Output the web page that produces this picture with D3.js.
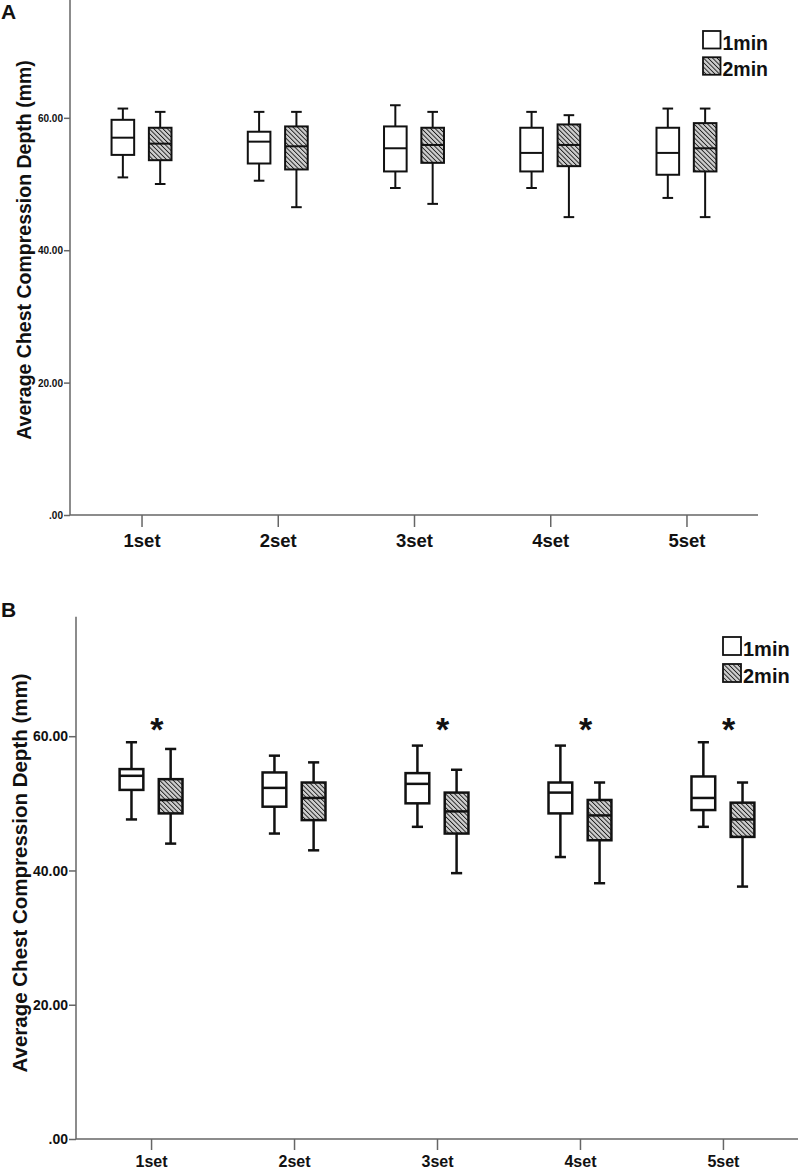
<!DOCTYPE html>
<html>
<head>
<meta charset="utf-8">
<script src="https://cdn.jsdelivr.net/npm/d3@7"></script>
<style>
  body { margin: 0; background: #fff; }
  svg { display: block; font-family: "Liberation Sans", Arial, sans-serif; font-weight: bold; }
</style>
</head>
<body>
<div id="container"></div>
<script>
// categories and tick labels
const sets = ["1set", "2set", "3set", "4set", "5set"];
const groups = ["1min", "2min"];
const yTicks = [0, 20, 40, 60];
const yTickLabels = [".00", "20.00", "40.00", "60.00"];
const yLabel = "Average Chest Compression Depth (mm)";

// box stats per set: [lower whisker, q1, median, q3, upper whisker]
const a1min = [
    [51.0, 54.4, 57.0, 59.7, 61.4],
    [50.5, 53.1, 56.4, 57.9, 60.9],
    [49.4, 51.9, 55.4, 58.7, 61.9],
    [49.4, 51.9, 54.7, 58.5, 60.9],
    [47.9, 51.4, 54.7, 58.5, 61.4]
];
const a2min = [
    [50.0, 53.6, 56.1, 58.5, 60.9],
    [46.5, 52.2, 55.7, 58.7, 60.9],
    [47.0, 53.2, 55.9, 58.5, 60.9],
    [45.0, 52.7, 55.9, 59.0, 60.4],
    [45.0, 51.9, 55.4, 59.2, 61.4]
];
const b1min = [
    [47.6, 52.0, 54.1, 55.1, 59.1],
    [45.5, 49.5, 52.3, 54.6, 57.1],
    [46.5, 50.0, 52.9, 54.5, 58.6],
    [42.0, 48.5, 51.6, 53.1, 58.6],
    [46.5, 49.0, 50.8, 54.0, 59.1]
];
const b2min = [
    [44.0, 48.5, 50.5, 53.6, 58.1],
    [43.0, 47.5, 50.8, 53.1, 56.1],
    [39.6, 45.5, 48.8, 51.6, 55.0],
    [38.1, 44.5, 48.2, 50.5, 53.1],
    [37.6, 45.0, 47.6, 50.1, 53.1]
];
const aSignif = [false, false, false, false, false];
const bSignif = [true, false, true, true, true];

const width = 800, height = 1170;
const yMax = 77.8;

const svg = d3.select("#container").append("svg")
    .attr("width", width).attr("height", height);

// hatch pattern for the 2min boxes (lines running top-left to bottom-right)
const defs = svg.append("defs");
const pat = defs.append("pattern")
    .attr("id", "hatch")
    .attr("patternUnits", "userSpaceOnUse")
    .attr("width", 3.2).attr("height", 3.2)
    .attr("patternTransform", "rotate(-45)");
pat.append("rect").attr("width", 3.2).attr("height", 3.2).attr("fill", "#cfcfcf");
pat.append("line")
    .attr("x1", 0).attr("y1", 0).attr("x2", 0).attr("y2", 3.2)
    .attr("stroke", "#1a1a1a").attr("stroke-width", 1.8);

function drawPanel(p) {
    const g = svg.append("g");

    const x = d3.scalePoint().domain(sets).range([p.left, p.right]).padding(0.525);
    const y = d3.scaleLinear().domain([0, yMax]).range([p.bottom, p.top]);
    const step = x.step();
    const off = step * 0.137;
    const bw = step * 0.166;
    const cap = bw * 0.47;

    // y axis
    const yAxis = d3.axisLeft(y)
        .tickValues(yTicks)
        .tickFormat((d, i) => yTickLabels[i])
        .tickSize(p.yTick).tickPadding(1);
    const ya = g.append("g")
        .attr("transform", `translate(${p.left},0)`)
        .call(yAxis);
    ya.selectAll("text").style("font-size", p.yFont + "px").attr("fill", "#111").attr("dy", "0.34em");

    // x axis
    const xAxis = d3.axisBottom(x).tickSize(p.xTick).tickPadding(p.xPad).tickSizeOuter(0);
    const xa = g.append("g")
        .attr("transform", `translate(0,${p.bottom})`)
        .call(xAxis);
    xa.selectAll("text").style("font-size", p.xFont + "px").attr("fill", "#111");

    g.selectAll(".domain, .tick line").attr("stroke", "#666").attr("stroke-width", 1.5);
    xa.select(".domain").attr("d", `M${p.left},0H${p.right}`);
    ya.select(".domain").attr("d", `M0,${p.bottom}V${p.top}`);

    // boxes
    const series = [
        { key: "1min", vals: p.s1, dx: -off, fill: "#fff" },
        { key: "2min", vals: p.s2, dx: off, fill: "url(#hatch)" }
    ];
    series.forEach(s => {
        const bg = g.append("g").selectAll("g")
            .data(s.vals.map((v, i) => ({ set: sets[i], v: v })))
            .enter().append("g")
            .attr("transform", d => `translate(${x(d.set) + s.dx},0)`);
        bg.append("line")
            .attr("y1", d => y(d.v[0])).attr("y2", d => y(d.v[1]))
            .attr("stroke", "#111").attr("stroke-width", p.sw);
        bg.append("line")
            .attr("y1", d => y(d.v[3])).attr("y2", d => y(d.v[4]))
            .attr("stroke", "#111").attr("stroke-width", p.sw);
        bg.append("line")
            .attr("x1", -cap / 2).attr("x2", cap / 2)
            .attr("y1", d => y(d.v[0])).attr("y2", d => y(d.v[0]))
            .attr("stroke", "#111").attr("stroke-width", p.sw);
        bg.append("line")
            .attr("x1", -cap / 2).attr("x2", cap / 2)
            .attr("y1", d => y(d.v[4])).attr("y2", d => y(d.v[4]))
            .attr("stroke", "#111").attr("stroke-width", p.sw);
        bg.append("rect")
            .attr("x", -bw / 2).attr("width", bw)
            .attr("y", d => y(d.v[3]))
            .attr("height", d => y(d.v[1]) - y(d.v[3]))
            .attr("fill", s.fill)
            .attr("stroke", "#111").attr("stroke-width", p.sw);
        bg.append("line")
            .attr("x1", -bw / 2).attr("x2", bw / 2)
            .attr("y1", d => y(d.v[2])).attr("y2", d => y(d.v[2]))
            .attr("stroke", "#111").attr("stroke-width", p.sw);
    });

    // significance stars
    g.append("g").selectAll("text")
        .data(sets.filter((s, i) => p.signif[i]))
        .enter().append("text")
        .attr("x", d => x(d) + step * 0.04)
        .attr("y", y(p.starAt))
        .attr("text-anchor", "middle")
        .style("font-size", "34px")
        .attr("fill", "#111")
        .text("*");

    // y label
    g.append("text")
        .attr("transform", `translate(${p.labelX},${p.labelY})rotate(-90)`)
        .attr("text-anchor", "middle")
        .style("font-size", p.labelFont + "px")
        .attr("fill", "#111")
        .text(yLabel);

    // panel letter
    g.append("text")
        .attr("x", 1).attr("y", p.letterY)
        .style("font-size", "21px")
        .attr("fill", "#111")
        .text(p.letter);

    // legend
    const lg = g.append("g").attr("transform", `translate(${p.legX},${p.legY})`);
    const ls = p.legSize;
    groups.forEach((k, i) => {
        lg.append("rect")
            .attr("x", 0).attr("y", i * ls * 1.5)
            .attr("width", ls).attr("height", ls)
            .attr("fill", i === 0 ? "#fff" : "url(#hatch)")
            .attr("stroke", "#111").attr("stroke-width", 1.8);
        lg.append("text")
            .attr("x", ls + 2).attr("y", i * ls * 1.5 + ls + 1)
            .style("font-size", p.legFont + "px")
            .attr("fill", "#111")
            .text(k);
    });
}

drawPanel({
    letter: "A", letterY: 19,
    left: 70, right: 758, top: 0, bottom: 515,
    s1: a1min, s2: a2min, signif: aSignif, starAt: 62,
    yTick: 6, yFont: 10, xTick: 12, xPad: 7, xFont: 18.5,
    labelX: 31, labelY: 250, labelFont: 19.5,
    legX: 703, legY: 31, legSize: 17.5, legFont: 19.5,
    sw: 2
});

drawPanel({
    letter: "B", letterY: 617,
    left: 76, right: 798, top: 616.7, bottom: 1139,
    s1: b1min, s2: b2min, signif: bSignif, starAt: 59.3,
    yTick: 7, yFont: 14, xTick: 11, xPad: 6, xFont: 16,
    labelX: 27, labelY: 873, labelFont: 20.5,
    legX: 723, legY: 637, legSize: 18, legFont: 20,
    sw: 2.5
});
</script>
</body>
</html>
